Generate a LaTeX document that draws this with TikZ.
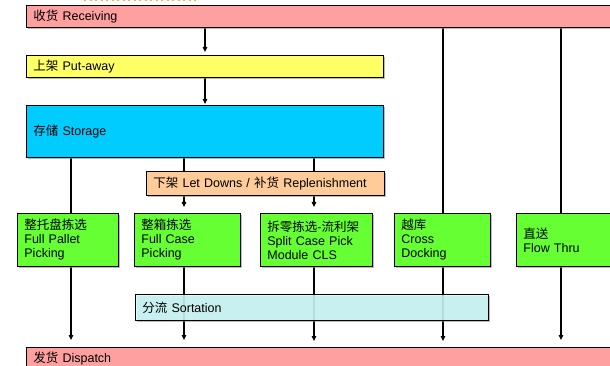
\documentclass[tikz,border=0pt]{standalone}
\usepackage{fontspec}
\setmainfont{Liberation Sans}
\newfontfamily\cjk{Noto Sans CJK SC}
\usetikzlibrary{arrows.meta,shadows,backgrounds}
\definecolor{pinkbox}{HTML}{FFA0A0}
\definecolor{yelbox}{HTML}{FFFF66}
\definecolor{bluebox}{HTML}{00CCFF}
\definecolor{orabox}{HTML}{FFCC99}
\definecolor{grnbox}{HTML}{66FF33}
\definecolor{cyanbox}{HTML}{CCFFFF}
\definecolor{topdots}{HTML}{F5B441}
\tikzset{
  box/.style={draw=black, line width=0.8pt, anchor=north west, align=left,
    inner xsep=7pt, inner ysep=0pt, font=\fontsize{12.5}{14}\selectfont,
    drop shadow={shadow xshift=1.5pt, shadow yshift=-1.5pt, fill=black!45, opacity=0.6}},
  ln/.style={draw=black, line width=1.1pt},
  arr/.style={ln, -{Triangle[length=5pt,width=4.5pt]}},
}
\begin{document}
\begin{tikzpicture}[x=1pt,y=-1pt]
\useasboundingbox (0,0) rectangle (610,366);
\clip (0,0) rectangle (610,366);
\draw[topdots, line width=2pt, dash pattern=on 2pt off 3.5pt] (84,0.5) -- (198,0.5);
% columns
\coordinate (xa) at (205,0);
\coordinate (xb) at (71,0);
\coordinate (xc) at (184,0);
\coordinate (xd) at (314,0);
\coordinate (xe) at (443,0);
\coordinate (xf) at (561,0);
% boxes
\node[box, fill=pinkbox, minimum height=22pt, text width=575pt] (recv) at (26,5) {{\cjk 收货} Receiving};
\node[box, fill=yelbox, minimum height=22pt, text width=343pt] (put) at (26,55) {{\cjk 上架} Put-away};
\node[box, fill=bluebox, minimum height=52pt, text width=343pt] (stor) at (26,105) {{\cjk 存储} Storage};
\node[box, fill=orabox, minimum height=24pt, text width=224pt] (ld) at (146,171) {{\cjk 下架} Let Downs / {\cjk 补货} Replenishment};
\node[box, fill=grnbox, minimum height=53pt, text width=87pt] (fp) at (17,213) {{\cjk 整托盘拣选}\\Full Pallet\\Picking};
\node[box, fill=grnbox, minimum height=53pt, text width=92pt] (fc) at (134,213) {{\cjk 整箱拣选}\\Full Case\\Picking};
\node[box, fill=grnbox, minimum height=53pt, text width=98pt] (sc) at (260,213) {{\cjk 拆零拣选}-{\cjk 流利架}\\Split Case Pick\\Module CLS};
\node[box, fill=grnbox, minimum height=53pt, text width=82pt] (cd) at (394,213) {{\cjk 越库}\\Cross\\Docking};
\node[box, fill=grnbox, minimum height=53pt, text width=80pt] (ft) at (516,213) {{\cjk 直送}\\Flow Thru};
\node[box, fill=pinkbox, minimum height=24pt, text width=575pt] (disp) at (26,347) {\raisebox{4pt}{{\cjk 发货} Dispatch}};
% connectors
\begin{pgfonlayer}{background}
\draw[arr, shorten >=3pt] (recv.south -| xa) -- (put.north -| xa);
\draw[arr, shorten >=1pt] (put.south -| xa) -- (stor.north -| xa);
\draw[ln] (stor.south -| xb) -- (fp.north -| xb);
\draw[ln] (stor.south -| xc) -- (ld.north -| xc);
\draw[ln] (stor.south -| xd) -- (ld.north -| xd);
\draw[arr, shorten >=6pt] (ld.south -| xc) -- (fc.north -| xc);
\draw[arr, shorten >=6pt] (ld.south -| xd) -- (sc.north -| xd);
\draw[ln] (recv.south -| xe) -- (cd.north -| xe);
\draw[ln] (recv.south -| xf) -- (ft.north -| xf);
\draw[arr, shorten >=7pt] (fp.south -| xb) -- (disp.north -| xb);
\draw[arr, shorten >=7pt] (fc.south -| xc) -- (disp.north -| xc);
\draw[arr, shorten >=6pt] (sc.south -| xd) -- (disp.north -| xd);
\draw[arr, shorten >=6pt] (cd.south -| xe) -- (disp.north -| xe);
\draw[arr, shorten >=7pt] (ft.south -| xf) -- (disp.north -| xf);
\end{pgfonlayer}
\node[box, fill=cyanbox, fill opacity=0.8, text opacity=1, minimum height=26pt, text width=339pt] (sort) at (135,294) {{\cjk 分流} Sortation};
\end{tikzpicture}
\end{document}
